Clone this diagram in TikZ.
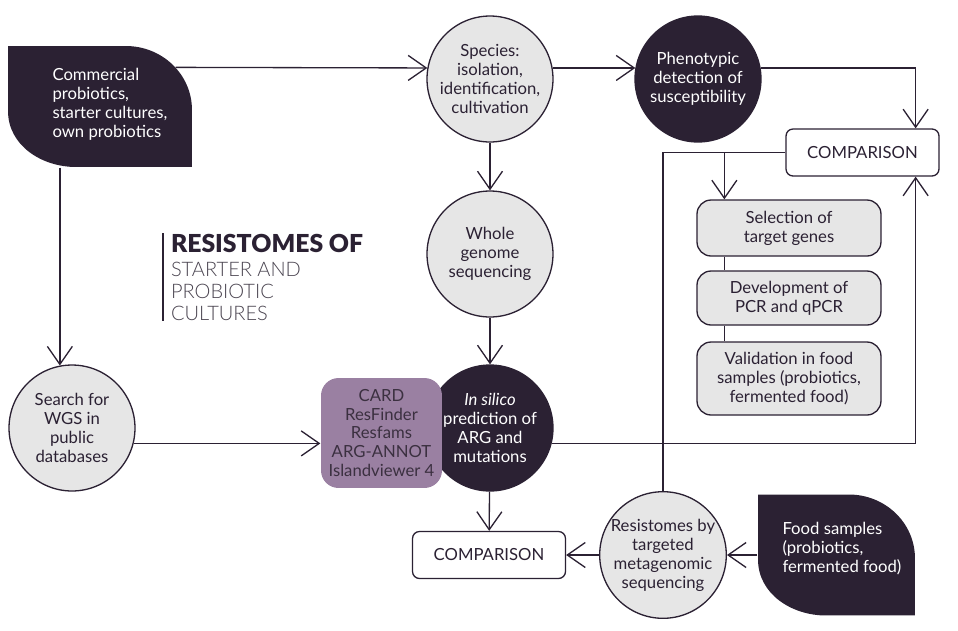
\documentclass[tikz,border=0pt]{standalone}
\usepackage{fontspec}
\setmainfont{Lato}
\newfontfamily\heavyfont{Lato Black}
\newfontfamily\lightfont{Lato Light}
\usetikzlibrary{arrows.meta,calc,positioning}
\definecolor{ink}{HTML}{2B2133}
\definecolor{cellgray}{HTML}{E6E6E6}
\definecolor{dbpurple}{HTML}{9A80A2}
\definecolor{subgray}{HTML}{4A4450}
\definecolor{toolink}{HTML}{3B3040}

\begin{document}
\begin{tikzpicture}[x=0.02cm, y=-0.02cm, line width=0.75pt, color=ink,
    font=\fontsize{9.5}{10.8}\selectfont,
    arr/.style={-{Straight Barb[length=3.6mm,width=5mm]}},
    disc/.style={circle, draw, fill=cellgray, minimum size=2.52cm, inner sep=0pt, align=center},
    darkdisc/.style={disc, fill=ink, text=white},
    result/.style={rectangle, draw, fill=white, rounded corners=4pt, minimum width=3.06cm, minimum height=0.94cm},
    stepbox/.style={rectangle, draw, fill=cellgray, rounded corners=8pt, minimum width=3.68cm, align=center},
    leaf/.style={rectangle, inner sep=0pt, minimum height=2.42cm, path picture={
      \fill[ink] (path picture bounding box.north west) -- ($(path picture bounding box.north east)+(-66,0)$) to[out=0,in=90] ($(path picture bounding box.north east)+(0,64)$) -- (path picture bounding box.south east) -- ($(path picture bounding box.south west)+(68,0)$) to[out=180,in=-90] ($(path picture bounding box.south west)+(0,-56)$) -- cycle;}},
    leaftext/.style={anchor=west, text=white, align=left}]
  \useasboundingbox (0,0) rectangle (958,630);

  % sources
  \node[leaf, minimum width=3.68cm] (comm) at (100,106.5) {};
  \node[leaftext] (commtxt) at (46,104) {Commercial\\probiotics,\\starter cultures,\\own probiotics};
  \node[leaf, minimum width=3.14cm] (food) at (836.5,555) {};
  \node[leaftext] (foodtxt) at (776,549) {Food samples\\(probiotics,\\fermented food)};

  % title
  \node[anchor=west, font=\heavyfont\fontsize{14.1}{16}\selectfont] (title) at (164.5,243) {RESISTOMES OF};
  \node[anchor=west, align=left, text=subgray, font=\lightfont\fontsize{11.4}{12.5}\selectfont] (subtitle) at (164.5,291) {STARTER AND\\PROBIOTIC\\CULTURES};
  \draw[line width=1.3pt] (163,233) -- (163,321);

  % steps
  \node[disc] (species) at (490,79) {Species:\\isolation,\\identification,\\cultivation};
  \node[darkdisc] (pheno) at (698,79) {Phenotypic\\detection of\\susceptibility};
  \node[disc] (wgs) at (490,254) {Whole\\genome\\sequencing};
  \node[darkdisc] (silico) at (490,428) {\textit{In silico}\\prediction of\\ARG and\\mutations};
  \node[stepbox, draw=none, fill=dbpurple, text=toolink, minimum width=2.42cm, minimum height=2.2cm, rounded corners=10pt] (tools) at (381.5,433) {CARD\\ResFinder\\Resfams\\ARG-ANNOT\\Islandviewer 4};
  \node[disc] (search) at (72,428) {Search for\\WGS in\\public\\databases};
  \node[disc] (resist) at (663,555) {Resistomes by\\targeted\\metagenomic\\sequencing};
  \node[result] (cmpA) at (862.5,152.5) {COMPARISON};
  \node[result] (cmpB) at (489,555) {COMPARISON};
  \node[stepbox, minimum height=1.12cm] (select) at (789,228) {Selection of\\target genes};
  \node[stepbox, minimum height=1.08cm] (develop) at (789,298) {Development of\\PCR and qPCR};
  \node[stepbox, minimum height=1.46cm] (valid) at (789,378.5) {Validation in food\\samples (probiotics,\\fermented food)};

  % connectors
  \draw[arr] ($(comm.north east)+(-17,22)$) -- (species.170);
  \draw[arr] (species.10) -- (pheno.170);
  \draw[arr] (pheno.10) -| ($(cmpA.north east)+(-24,0)$);
  \draw (cmpA.west) -| (resist.north);
  \coordinate (selin) at ($(select.north west)+(28,0)$);
  \draw[arr] (selin |- cmpA.west) -- (selin);
  \draw (selin |- select.south) -- (selin |- develop.north);
  \draw (selin |- develop.south) -- (selin |- valid.north);
  \draw[arr] (silico.-14) -| ($(cmpA.south east)+(-24,0)$);
  \draw[arr] (search.-14) -- (search.-14 -| tools.west);
  \draw[arr] (search.101 |- comm.south) -- (search.101);
  \draw[arr] (species) -- (wgs);
  \draw[arr] (wgs) -- (silico);
  \draw[arr] (silico) -- (cmpB);
  \draw[arr] (resist) -- (cmpB);
  \draw[arr] (food) -- (resist);
\end{tikzpicture}
\end{document}
